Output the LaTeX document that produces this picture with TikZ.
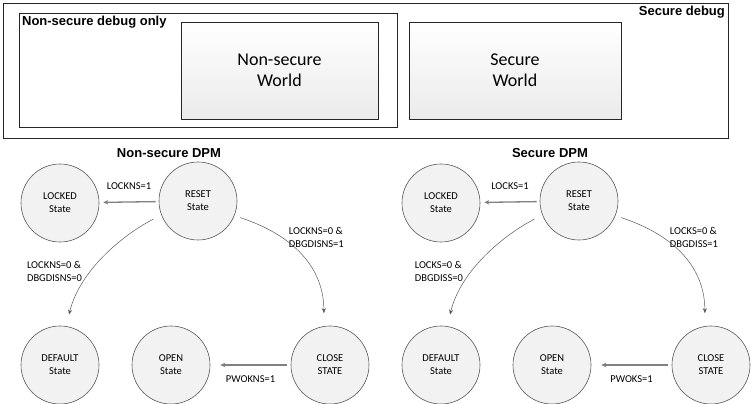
\documentclass[tikz,border=0pt]{standalone}
\usepackage{fontspec}
\setmainfont{Carlito}
\newfontfamily\headfont{Liberation Sans}
\usetikzlibrary{arrows.meta}
\usetikzlibrary{shadows}

\tikzset{
	panel/.style={draw=black!85,line width=0.8pt,fill=white,drop shadow={shadow xshift=1.2pt,shadow yshift=-1.2pt,opacity=0.3}},
	world/.style={draw=black!85,line width=0.7pt,top color=white,bottom color=black!8,minimum height=97pt,align=center,font=\fontsize{18}{21}\selectfont,drop shadow={shadow xshift=1.2pt,shadow yshift=-1.2pt,opacity=0.3}},
	dpmstate/.style={circle,draw=black!65,line width=0.6pt,fill=black!5,minimum size=78pt,inner sep=0pt,align=center,font=\fontsize{10.5}{12.8}\selectfont},
	headtxt/.style={font=\headfont\bfseries\fontsize{13}{15}\selectfont},
	lbl/.style={inner sep=1pt,align=left,font=\fontsize{10.5}{13}\selectfont},
	flow/.style={draw=black!50,line width=1.3pt,-{Stealth[length=5pt,width=4.5pt]}},
	curvy/.style={draw=black!65,line width=0.5pt,-{Stealth[length=5pt,width=4pt]}}
}

\begin{document}
\begin{tikzpicture}[x=1pt,y=1pt]
	\useasboundingbox (0,0) rectangle (753,404);

	% debug frames
	\node[panel,minimum width=725pt,minimum height=135pt] (sdbg) at (365.5,333.5) {};
	\node[panel,minimum width=378pt,minimum height=114pt] (nsdbg) at (208,334) {};
	\node[headtxt,anchor=north east] (sdbg-txt) at (sdbg.north east) {Secure debug};
	\node[headtxt,anchor=north west] (nsdbg-txt) at (nsdbg.north west) {Non-secure debug only};

	\node[world,minimum width=197pt] (nsworld) at (279.5,333.5) {Non-secure\\World};
	\node[world,minimum width=212pt] (sworld) at (515,333.5) {Secure\\World};

	% the two DPMs
	\foreach \p/\ox/\k/\dpm in {n/0/NS/Non-secure DPM,s/381/S/Secure DPM}{
		\node[headtxt] (\p-title) at (169+\ox,251) {\dpm};

		\node[dpmstate] (\p-lock) at (60+\ox,201) {LOCKED\\State};
		\node[dpmstate] (\p-reset) at (198+\ox,203) {RESET\\State};
		\node[dpmstate] (\p-dflt) at (60+\ox,39) {DEFAULT\\State};
		\node[dpmstate] (\p-open) at (171+\ox,39) {OPEN\\State};
		\node[dpmstate] (\p-close) at (330+\ox,39) {CLOSE\\STATE};

		\draw[flow,shorten <=3pt,shorten >=4pt] (\p-reset) -- node[lbl,above=11pt] {LOCK\k=1} (\p-lock);
		\draw[flow,shorten <=4pt,shorten >=10pt] (\p-close) -- node[lbl,below=9pt] {PWOK\k=1} (\p-open);

		\draw[curvy,shorten <=6pt,shorten >=13pt] (\p-reset.-22) .. controls +(61,-20) and +(0,57) .. node[lbl,pos=0.3,right=7pt] {LOCK\k=0 \&\\DBGDIS\k=1} (\p-close.99);
		\draw[curvy,shorten <=9pt,shorten >=12pt] (\p-reset.201) .. controls +(-37,-19) and +(14,57) .. node[lbl,pos=0.63,left=9pt] {LOCK\k=0 \&\\DBGDIS\k=0} (\p-dflt.81);
	}
\end{tikzpicture}
\end{document}
